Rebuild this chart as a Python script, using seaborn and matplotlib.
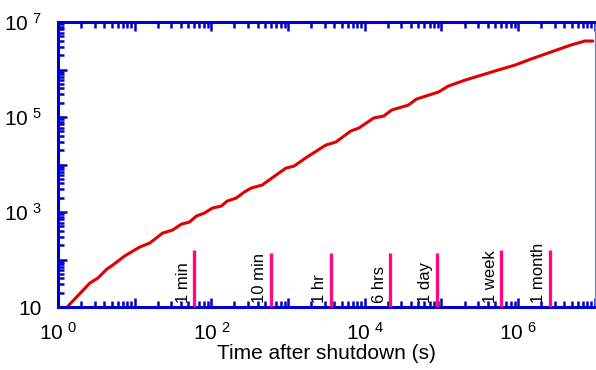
import numpy as np
import pandas as pd
import seaborn as sns
import matplotlib.pyplot as plt
from matplotlib.ticker import LogLocator, FuncFormatter, NullFormatter

# decay curve (time in s, value)
time_s = [1.35, 2.6, 3.31, 4.33, 5.18, 7.41, 11.6, 15.7, 23.1, 31.2, 40.8, 51.8,
          63.8, 81.1, 103, 135, 161, 211, 268, 330, 459, 698, 942, 1197, 1766,
          3118, 4200, 6580, 8360, 13090, 17660, 22440, 37250, 47300, 91400,
          123300, 205000, 550000, 914000, 1.475e6, 2.68e6, 4.88e6, 7.41e6, 9.4e6]
value = [10.5, 32, 40.8, 63, 76.6, 119, 183, 222, 361, 418, 559, 616, 824, 953,
         1214, 1337, 1706, 1972, 2636, 3201, 3700, 6010, 8440, 9290, 14380,
         25740, 29780, 50720, 58650, 95260, 105000, 140400, 179000, 239300,
         335900, 449600, 601000, 975000, 1.245e6, 1.663e6, 2.335e6, 3.28e6,
         3.98e6, 3.98e6]

# reference times
mark_labels = ['1 min', '10 min', '1 hr', '6 hrs', '1 day', '1 week', '1 month']
mark_times = [60, 600, 3600, 21600, 86400, 604800, 2592000]
mark_tops = [158, 137, 137, 137, 137, 158, 158]

df = pd.DataFrame({'t': time_s, 'v': value})

sns.set_theme(style='white')
plt.rcParams['font.family'] = ['Liberation Sans', 'DejaVu Sans']
plt.rcParams['mathtext.fontset'] = 'custom'
plt.rcParams['mathtext.rm'] = 'Liberation Sans'

fig = plt.figure(figsize=(5.96, 3.70), dpi=100)
ax = fig.add_axes([0.0973, 0.170, 0.9007, 0.7705])

sns.lineplot(data=df, x='t', y='v', ax=ax, color='#e00000', linewidth=2.2)
ax.set_xscale('log')
ax.set_yscale('log')
ax.set_xlim(1, 1e7)
ax.set_ylim(10, 1e7)

ax.vlines(mark_times, 10, mark_tops, color='#ff0a80', linewidth=2.4, zorder=3)
for lab, t in zip(mark_labels, mark_times):
    ax.text(t / 1.12, 12, lab, rotation=90, ha='right', va='bottom',
            fontsize=12, color='black')

blue = '#0000cc'
for side in ['left', 'bottom', 'top']:
    ax.spines[side].set_color(blue)
    ax.spines[side].set_linewidth(2.2)
ax.spines['right'].set_color('#7070ff')
ax.spines['right'].set_linewidth(0.8)


def fmt(val, pos, keep):
    e = int(round(np.log10(val)))
    if e not in keep:
        return ''
    if e == 1:
        return '10'
    return r'$\mathregular{10^{\ %d}}$' % e


ax.xaxis.set_major_locator(LogLocator(base=10, numticks=20))
ax.yaxis.set_major_locator(LogLocator(base=10, numticks=20))
ax.xaxis.set_minor_locator(LogLocator(base=10, subs=np.arange(2, 10), numticks=20))
ax.yaxis.set_minor_locator(LogLocator(base=10, subs=np.arange(2, 10), numticks=20))
ax.xaxis.set_major_formatter(FuncFormatter(lambda v, p: fmt(v, p, {0, 2, 4, 6})))
ax.yaxis.set_major_formatter(FuncFormatter(lambda v, p: fmt(v, p, {1, 3, 5, 7})))
ax.xaxis.set_minor_formatter(NullFormatter())
ax.yaxis.set_minor_formatter(NullFormatter())

ax.tick_params(which='both', direction='in', color=blue, width=1.8,
               top=True, bottom=True, left=True, right=False, labelsize=15,
               labelcolor='black')
ax.tick_params(which='major', length=6.5)
ax.tick_params(which='minor', length=4)
ax.tick_params(axis='x', pad=11)
ax.tick_params(axis='y', pad=12)

ax.set_xlabel('Time after shutdown (s)', fontsize=15, labelpad=0, color='black')
ax.set_ylabel('')

fig.savefig('out.png', dpi=100)
